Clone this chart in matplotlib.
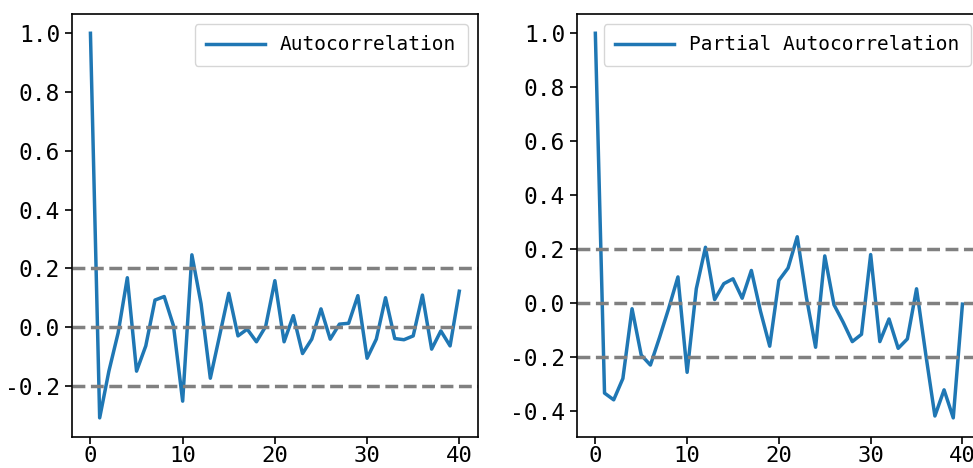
import matplotlib

matplotlib.use("Agg")
import matplotlib.pyplot as plt

# values, lags 0..40
lags = list(range(41))
acf_values = [
    1.0, -0.309, -0.15, -0.02, 0.168, -0.150, -0.064, 0.092, 0.104, 0.005,
    -0.252, 0.246, 0.079, -0.174, -0.03, 0.115, -0.030, -0.007, -0.05, 0.002,
    0.158, -0.05, 0.039, -0.09, -0.041, 0.062, -0.041, 0.01, 0.013, 0.107,
    -0.106, -0.041, 0.10, -0.039, -0.043, -0.03, 0.109, -0.075, -0.013, -0.064,
    0.122,
]
pacf_values = [
    1.0, -0.335, -0.360, -0.281, -0.022, -0.194, -0.231, -0.128, -0.02, 0.096,
    -0.258, 0.052, 0.206, 0.012, 0.071, 0.089, 0.017, 0.12, -0.032, -0.161,
    0.083, 0.129, 0.245, 0.02, -0.165, 0.174, -0.007, -0.072, -0.144, -0.117,
    0.179, -0.144, -0.06, -0.169, -0.134, 0.052, -0.19, -0.42, -0.323, -0.427,
    -0.005,
]
ref_levels = [-0.2, 0.0, 0.2]

plt.rcParams["font.family"] = ["DejaVu Sans Mono"]
plt.rcParams["axes.unicode_minus"] = False

fig = plt.figure(figsize=(9.73, 4.68), dpi=100)
ax1 = fig.add_axes([0.074, 0.066, 0.417, 0.904])
ax2 = fig.add_axes([0.593, 0.066, 0.415, 0.904])


def draw_panel(ax, values, label):
    ax.plot(lags, values, color="#1f77b4", lw=2.5, label=label)
    for level in ref_levels:
        ax.axhline(level, color="grey", ls="--", lw=2.5)
    ax.set_xticks([0, 10, 20, 30, 40])
    ax.tick_params(labelsize=16.5, width=1.2, length=5)
    ax.tick_params(axis="x", pad=1.5, labelsize=16)
    for spine in ax.spines.values():
        spine.set_linewidth(1.2)
    ax.legend(loc="upper right", fontsize=14, handlelength=3, borderpad=0.6)


draw_panel(ax1, acf_values, "Autocorrelation")
draw_panel(ax2, pacf_values, "Partial Autocorrelation")

fig.savefig("out.png", dpi=100)
